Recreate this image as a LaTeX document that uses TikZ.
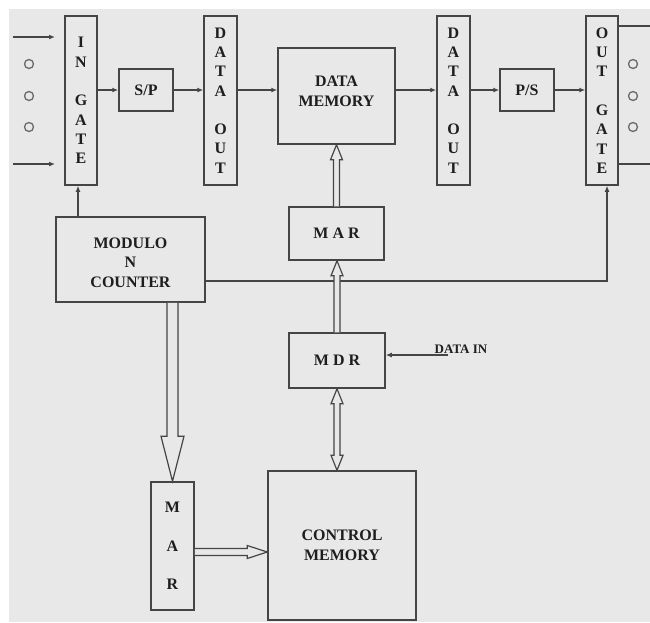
\documentclass[tikz,border=0pt]{standalone}
\usepackage{fontspec}
\setmainfont{Liberation Serif}
\usetikzlibrary{arrows.meta,calc}
\definecolor{bg}{HTML}{E8E8E8}
\definecolor{ln}{HTML}{454545}
\definecolor{tx}{HTML}{1E1E1E}
\begin{document}
\begin{tikzpicture}[x=1pt,y=-1pt,
 box/.style={draw=ln,line width=1.5pt,fill=bg,inner sep=0pt,align=center,text=tx,font=\fontsize{16}{19.3}\selectfont\bfseries},
 lbl/.style={inner sep=0pt,align=center,text=tx,font=\fontsize{16}{19.5}\selectfont\bfseries},
 conn/.style={draw=ln,line width=1.2pt},
 tip/.style={-{Latex[length=6pt,width=5pt]}},
 hollow/.style={draw=ln,line width=1.2pt,fill=bg,line join=miter},
 ring/.style={draw=ln!80,line width=1.3pt}]
\useasboundingbox (0,0) rectangle (650,622);
\fill[white] (0,0) rectangle (650,622);
\fill[bg] (9,9) rectangle (650,622);
% nodes
\node[box,minimum width=32pt,minimum height=169pt] (ingate) at (81,100.5) {I\\N\\~\\G\\A\\T\\E};
\node[box,minimum width=54pt,minimum height=42pt] (sp) at (146,90) {S/P};
\node[box,minimum width=33pt,minimum height=169pt] (do1) at (220.5,100.5) {D\\A\\T\\A\\~\\O\\U\\T};
\node[box,minimum width=117pt,minimum height=96pt] (dm) at (336.5,96) {};
\node[lbl] (dmlabel) at ([yshift=4.5pt]dm.center) {DATA\\MEMORY};
\node[box,minimum width=33pt,minimum height=169pt] (do2) at (453.5,100.5) {D\\A\\T\\A\\~\\O\\U\\T};
\node[box,minimum width=54pt,minimum height=42pt] (ps) at (527,90) {P/S};
\node[box,minimum width=32pt,minimum height=169pt] (og) at (602,100.5) {O\\U\\T\\~\\G\\A\\T\\E};
\node[box,minimum width=149pt,minimum height=85pt] (cnt) at (130.5,259.5) {};
\node[lbl] (cntlabel) at ([yshift=-3pt]cnt.center) {MODULO\\N\\COUNTER};
\node[box,minimum width=95pt,minimum height=53pt] (mar1) at (336.5,233.5) {M A R};
\node[box,minimum width=96pt,minimum height=55pt] (mdr) at (337,360.5) {M D R};
\node[box,minimum width=148pt,minimum height=149pt] (cm) at (342,545.5) {};
\node[lbl,font=\fontsize{16}{20}\selectfont\bfseries] (cmlabel) at (cm.center) {CONTROL\\MEMORY};
\node[box,minimum width=43pt,minimum height=128pt] (mar2) at (172.5,546) {M\\~\\A\\~\\R};
\node[text=tx,font=\fontsize{13}{15}\selectfont\bfseries,inner sep=0pt] (din) at (461,349) {DATA IN};
% free ends
\coordinate (in1) at (13,37);
\coordinate (in1e) at (55,37);
\coordinate (in2) at (13,164);
\coordinate (in2e) at (55,164);
\coordinate (out1) at (650,26);
\coordinate (out2) at (650,164);
\coordinate (c1) at (607,281);
\coordinate (dinstart) at (448,355);
% input / output lines
\draw[conn,tip] (in1) -- (in1e);
\draw[conn,tip] (in2) -- (in2e);
\draw[conn] (og.east |- out1) -- (out1);
\draw[conn] (og.east |- out2) -- (out2);
\foreach \yy in {64,96,127} {
  \draw[ring] (29,\yy) circle (4.5);
  \draw[ring] (633,\yy) circle (4.5);
}
% data path
\draw[conn,tip] (ingate.east |- sp.west) -- (sp.west);
\draw[conn,tip] (sp.east) -- (do1.west |- sp.east);
\draw[conn,tip] (do1.east |- sp.east) -- (dm.west |- sp.east);
\draw[conn,tip] (dm.east |- sp.east) -- (do2.west |- sp.east);
\draw[conn,tip] (do2.east |- ps.west) -- (ps.west);
\draw[conn,tip] (ps.east) -- (og.west |- ps.east);
% counter connections
\draw[conn,tip] ([xshift=-3pt]ingate.south |- cnt.north) -- ([xshift=-3pt]ingate.south);
\draw[conn,tip] (cnt.east |- c1) -- (c1) -- (c1 |- og.south);
% DATA IN
\draw[conn,tip] (dinstart) -- (mdr.east |- dinstart);
% hollow arrows: MAR -> DATA MEMORY
\draw[hollow] let \p1=(mar1.north), \p2=(dm.south) in
  (\x1-3pt,\y1) -- (\x1-3pt,\y2-15pt) -- (\x1-6pt,\y2-15pt) -- (\x1,\y2) -- (\x1+6pt,\y2-15pt) -- (\x1+3pt,\y2-15pt) -- (\x1+3pt,\y1);
% MDR -> MAR
\draw[hollow] let \p1=(mdr.north), \p2=(mar1.south) in
  (\x1-3pt,\y1) -- (\x1-3pt,\y2-15pt) -- (\x1-6pt,\y2-15pt) -- (\x1,\y2) -- (\x1+6pt,\y2-15pt) -- (\x1+3pt,\y2-15pt) -- (\x1+3pt,\y1);
% MDR <-> CONTROL MEMORY
\draw[hollow] let \p1=(cm.north -| mdr.south), \p2=(mdr.south) in
  (\x1,\y1) -- (\x1-6pt,\y1+15pt) -- (\x1-3pt,\y1+15pt) -- (\x1-3pt,\y2-15pt) -- (\x1-6pt,\y2-15pt) -- (\x1,\y2) -- (\x1+6pt,\y2-15pt) -- (\x1+3pt,\y2-15pt) -- (\x1+3pt,\y1+15pt) -- (\x1+6pt,\y1+15pt) -- cycle;
% COUNTER -> MAR (bottom)
\draw[hollow] let \p1=(mar2.north |- cnt.south), \p2=(mar2.north) in
  (\x1-5.5pt,\y1) -- (\x1-5.5pt,\y2+45pt) -- (\x1-11.5pt,\y2+45pt) -- (\x1,\y2) -- (\x1+11.5pt,\y2+45pt) -- (\x1+5.5pt,\y2+45pt) -- (\x1+5.5pt,\y1);
% MAR (bottom) -> CONTROL MEMORY
\draw[hollow] let \p1=([yshift=-6pt]mar2.east), \p2=(cm.west) in
  (\x1,\y1+3.5pt) -- (\x2-20pt,\y1+3.5pt) -- (\x2-20pt,\y1+6.5pt) -- (\x2,\y1) -- (\x2-20pt,\y1-6.5pt) -- (\x2-20pt,\y1-3.5pt) -- (\x1,\y1-3.5pt);
\end{tikzpicture}
\end{document}
